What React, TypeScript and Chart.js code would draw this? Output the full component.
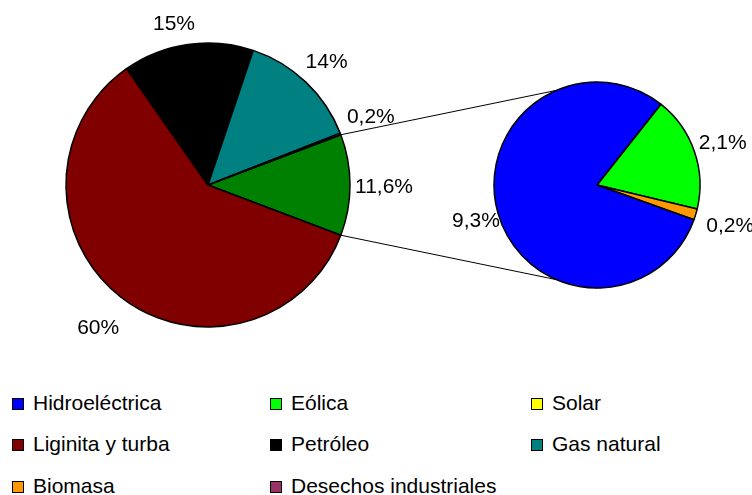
import React, { useEffect, useRef } from 'react';
import { Chart, registerables } from 'chart.js';

Chart.register(...registerables);

const FONT = '"Liberation Sans", Arial, Helvetica, sans-serif';

// Main pie (the first slice is the group of renewables shown in the second pie)
const mainCategories = ['Renovables', 'Liginita y turba', 'Petróleo', 'Gas natural', 'Desechos industriales'];
const mainValues = [11.6, 60, 15, 14, 0.2];
const mainValueLabels = ['11,6%', '60%', '15%', '14%', '0,2%'];
const mainColors = ['#008000', '#800000', '#000000', '#008080', '#993366'];

// Secondary pie (breakdown of renewables)
const subCategories = ['Eólica', 'Biomasa', 'Solar', 'Hidroeléctrica'];
const subValues = [2.1, 0.2, 0, 9.3];
const subValueLabels = ['2,1%', '0,2%', '', '9,3%'];
const subColors = ['#00FF00', '#FF9900', '#FFFF00', '#0000FF'];

// Legend
const legendCategories = [
  'Hidroeléctrica', 'Eólica', 'Solar',
  'Liginita y turba', 'Petróleo', 'Gas natural',
  'Biomasa', 'Desechos industriales',
];
const legendColors = [
  '#0000FF', '#00FF00', '#FFFF00',
  '#800000', '#000000', '#008080',
  '#FF9900', '#993366',
];

// layout (label radial distances from the pie centre and small angular nudges, degrees)
const mainLabelDist = [176, 179, 166, 172, 177];
const mainLabelNudge = [0, 0, -3.6, 0, -2];
const subLabelDist = [133, 139, 0, 126];
const subLabelNudge = [0, 0, 0, 0];
const SUB_ROTATION = 38.3;
const CANVAS_W = 752;
const CANVAS_H = 370;

function labelPlugin(texts: string[], dists: number[], nudges: number[]) {
  return {
    id: 'sliceLabels',
    afterDatasetsDraw(chart: any) {
      const ctx = chart.ctx;
      const meta = chart.getDatasetMeta(0);
      ctx.save();
      ctx.font = `21px ${FONT}`;
      ctx.fillStyle = '#000';
      ctx.textAlign = 'center';
      ctx.textBaseline = 'alphabetic';
      meta.data.forEach((arc: any, i: number) => {
        const t = texts[i];
        if (!t) return;
        const p = arc.getProps(['x', 'y', 'startAngle', 'endAngle'], true);
        const mid = (p.startAngle + p.endAngle) / 2 + (nudges[i] * Math.PI) / 180;
        const d = dists[i];
        ctx.fillText(t, p.x + d * Math.cos(mid), p.y + d * Math.sin(mid) + 7.5);
      });
      ctx.restore();
    },
  };
}

export default function App() {
  const mainRef = useRef<HTMLCanvasElement | null>(null);
  const subRef = useRef<HTMLCanvasElement | null>(null);

  useEffect(() => {
    if (!mainRef.current || !subRef.current) return;
    const total = mainValues.reduce((a, b) => a + b, 0);
    const span = (mainValues[0] / total) * 360;
    const mainRotation = 90 - span / 2;

    const mainChart = new Chart(mainRef.current, {
      type: 'pie',
      data: {
        labels: mainCategories,
        datasets: [{
          data: mainValues,
          backgroundColor: mainColors,
          borderColor: '#000000',
          borderWidth: 1.5,
        }],
      },
      options: {
        responsive: false,
        animation: false,
        events: [],
        rotation: mainRotation,
        radius: 142,
        layout: { padding: { left: 0, right: CANVAS_W - 416, top: 0, bottom: 0 } },
        plugins: { legend: { display: false }, tooltip: { enabled: false } },
      },
      plugins: [labelPlugin(mainValueLabels, mainLabelDist, mainLabelNudge)],
    } as any);

    const connector = {
      id: 'connector',
      beforeDatasetsDraw(chart: any) {
        const a = mainChart.getDatasetMeta(0).data[0] as any;
        const b = chart.getDatasetMeta(0).data[0] as any;
        if (!a || !b) return;
        const pa = a.getProps(['x', 'y', 'startAngle', 'endAngle', 'outerRadius'], true);
        const pb = b.getProps(['x', 'y', 'outerRadius'], true);
        const ctx = chart.ctx;
        ctx.save();
        ctx.strokeStyle = '#000';
        ctx.lineWidth = 1;
        ctx.beginPath();
        ctx.moveTo(pa.x + pa.outerRadius * Math.cos(pa.startAngle), pa.y + pa.outerRadius * Math.sin(pa.startAngle));
        ctx.lineTo(pb.x, pb.y - pb.outerRadius);
        ctx.moveTo(pa.x + pa.outerRadius * Math.cos(pa.endAngle), pa.y + pa.outerRadius * Math.sin(pa.endAngle));
        ctx.lineTo(pb.x, pb.y + pb.outerRadius);
        ctx.stroke();
        ctx.restore();
      },
    };

    const subChart = new Chart(subRef.current, {
      type: 'pie',
      data: {
        labels: subCategories,
        datasets: [{
          data: subValues,
          backgroundColor: subColors,
          borderColor: '#000000',
          borderWidth: 1.5,
        }],
      },
      options: {
        responsive: false,
        animation: false,
        events: [],
        rotation: SUB_ROTATION,
        radius: 103,
        layout: { padding: { left: 597 * 2 - CANVAS_W, right: 0, top: 0, bottom: 0 } },
        plugins: { legend: { display: false }, tooltip: { enabled: false } },
      },
      plugins: [connector, labelPlugin(subValueLabels, subLabelDist, subLabelNudge)],
    } as any);

    return () => {
      subChart.destroy();
      mainChart.destroy();
    };
  }, []);

  const colLeft = [12, 270, 531];
  const rowTop = [392, 433, 475];

  return (
    <div style={{ position: 'absolute', left: 0, top: 0, width: 752, height: 495, background: '#fff', overflow: 'hidden' }}>
      <canvas ref={mainRef} width={CANVAS_W} height={CANVAS_H} style={{ position: 'absolute', left: 0, top: 0 }} />
      <canvas ref={subRef} width={CANVAS_W} height={CANVAS_H} style={{ position: 'absolute', left: 0, top: 0 }} />
      {legendCategories.map((name, i) => {
        const col = i % 3;
        const row = Math.floor(i / 3);
        return (
          <div
            key={name}
            style={{
              position: 'absolute',
              left: colLeft[col],
              top: rowTop[row],
              display: 'flex',
              alignItems: 'flex-end',
              fontFamily: FONT,
              fontSize: 21,
              lineHeight: '21px',
              whiteSpace: 'nowrap',
              color: '#000',
            }}
          >
            <span
              style={{
                display: 'inline-block',
                width: 10,
                height: 10,
                border: '1px solid #000',
                background: legendColors[i],
                marginRight: 9,
                marginBottom: 3,
              }}
            />
            <span>{name}</span>
          </div>
        );
      })}
    </div>
  );
}
